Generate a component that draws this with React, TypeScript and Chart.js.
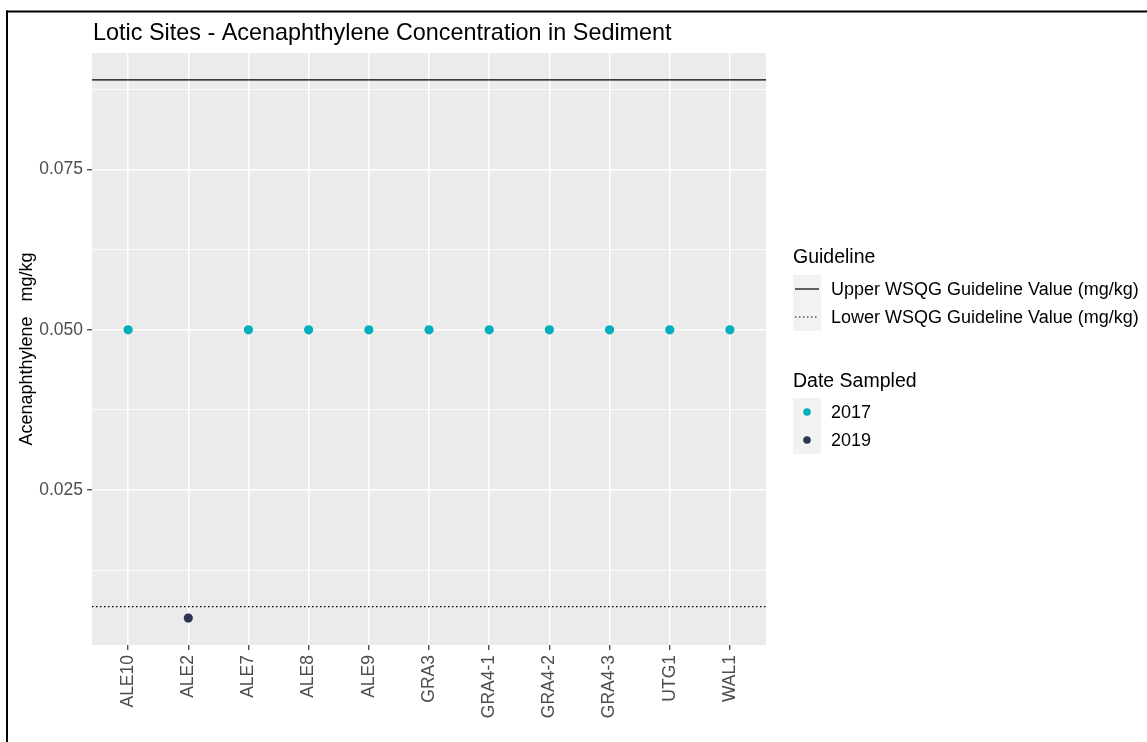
import React, { useEffect, useRef } from "react";
import { Chart, registerables } from "chart.js";

Chart.register(...registerables);

const W = 1147;
const H = 742;
const FONT = "'Liberation Sans', Arial, Helvetica, sans-serif";

const chartTitle = "Lotic Sites - Acenaphthylene Concentration in Sediment";
const yAxisTitle = "Acenaphthylene   mg/kg";

const sites = ["ALE10", "ALE2", "ALE7", "ALE8", "ALE9", "GRA3", "GRA4-1", "GRA4-2", "GRA4-3", "UTG1", "WAL1"];

const sites2017 = ["ALE10", "ALE7", "ALE8", "ALE9", "GRA3", "GRA4-1", "GRA4-2", "GRA4-3", "UTG1", "WAL1"];
const values2017 = [0.05, 0.05, 0.05, 0.05, 0.05, 0.05, 0.05, 0.05, 0.05, 0.05];

const sites2019 = ["ALE2"];
const values2019 = [0.005];

const upperGuideline = 0.089;
const lowerGuideline = 0.0068;

const yMajorTicks = [0.025, 0.05, 0.075];
const yTickLabels = ["0.025", "0.050", "0.075"];
const yMinorTicks = [0.0125, 0.0375, 0.0625, 0.0875];
const yMin = 0.0008;
const yMax = 0.0932;

const guidelineLabels = ["Upper WSQG Guideline Value (mg/kg)", "Lower WSQG Guideline Value (mg/kg)"];
const dateLabels = ["2017", "2019"];

const COLOR_2017 = "#00AFBB";
const COLOR_2019 = "#2B3452";

const isMajor = (v: number) => yMajorTicks.some((m) => Math.abs(m - v) < 1e-9);

export default function App() {
  const ref = useRef<HTMLCanvasElement | null>(null);

  useEffect(() => {
    if (!ref.current) return;
    const xMin = -0.6;
    const xMax = sites.length - 1 + 0.6;

    const decorPlugin = {
      id: "decor",
      beforeDraw(chart: any) {
        const { ctx, chartArea } = chart;
        ctx.save();
        ctx.fillStyle = "#FFFFFF";
        ctx.fillRect(0, 0, W, H);
        ctx.fillStyle = "#EBEBEB";
        ctx.fillRect(chartArea.left, chartArea.top, chartArea.right - chartArea.left, chartArea.bottom - chartArea.top);
        ctx.restore();
      },
      afterDraw(chart: any) {
        const { ctx, chartArea } = chart;
        ctx.save();
        // outer frame
        ctx.fillStyle = "#000000";
        ctx.fillRect(6, 10.5, 2, H);
        ctx.fillRect(6, 10.5, W, 2);

        // title
        ctx.fillStyle = "#000000";
        ctx.font = `23.4px ${FONT}`;
        ctx.textAlign = "left";
        ctx.textBaseline = "alphabetic";
        ctx.fillText(chartTitle, chartArea.left + 1, 40);

        // y axis title
        ctx.save();
        ctx.translate(27, (chartArea.top + chartArea.bottom) / 2);
        ctx.rotate(-Math.PI / 2);
        ctx.font = `18px ${FONT}`;
        ctx.textAlign = "center";
        ctx.textBaseline = "middle";
        ctx.fillText(yAxisTitle, 0, 0);
        ctx.restore();

        // legends
        const keyX = 793;
        const keySize = 28;
        const textX = 831;

        ctx.font = `19.5px ${FONT}`;
        ctx.textAlign = "left";
        ctx.textBaseline = "alphabetic";
        ctx.fillStyle = "#000000";
        ctx.fillText("Guideline", keyX, 263);

        const gTop = 275;
        guidelineLabels.forEach((lab, i) => {
          const y0 = gTop + i * keySize;
          ctx.fillStyle = "#F2F2F2";
          ctx.fillRect(keyX, y0, keySize, keySize);
          ctx.strokeStyle = "#000000";
          ctx.lineWidth = 1.2;
          ctx.setLineDash(i === 0 ? [] : [1.5, 2.5]);
          ctx.beginPath();
          ctx.moveTo(keyX + 2, y0 + keySize / 2);
          ctx.lineTo(keyX + keySize - 2, y0 + keySize / 2);
          ctx.stroke();
          ctx.setLineDash([]);
          ctx.fillStyle = "#000000";
          ctx.font = `18px ${FONT}`;
          ctx.textBaseline = "middle";
          ctx.fillText(lab, textX, y0 + keySize / 2 + 1);
        });

        ctx.font = `19.5px ${FONT}`;
        ctx.textBaseline = "alphabetic";
        ctx.fillStyle = "#000000";
        ctx.fillText("Date Sampled", keyX, 387);

        const dTop = 398;
        dateLabels.forEach((lab, i) => {
          const y0 = dTop + i * keySize;
          ctx.fillStyle = "#F2F2F2";
          ctx.fillRect(keyX, y0, keySize, keySize);
          ctx.fillStyle = i === 0 ? COLOR_2017 : COLOR_2019;
          ctx.beginPath();
          ctx.arc(keyX + keySize / 2, y0 + keySize / 2, 3.8, 0, Math.PI * 2);
          ctx.fill();
          ctx.fillStyle = "#000000";
          ctx.font = `18px ${FONT}`;
          ctx.textBaseline = "middle";
          ctx.fillText(lab, textX, y0 + keySize / 2 + 1);
        });
        ctx.restore();
      },
    };

    const chart = new Chart(ref.current, {
      type: "scatter",
      data: {
        datasets: [
          {
            label: "2019",
            data: sites2019.map((s, i) => ({ x: sites.indexOf(s), y: values2019[i] })),
            backgroundColor: COLOR_2019,
            borderColor: COLOR_2019,
            pointRadius: 4.6,
            borderWidth: 0,
          },
          {
            label: "2017",
            data: sites2017.map((s, i) => ({ x: sites.indexOf(s), y: values2017[i] })),
            backgroundColor: COLOR_2017,
            borderColor: COLOR_2017,
            pointRadius: 4.6,
            borderWidth: 0,
          },
          {
            label: "Upper",
            type: "line",
            data: [
              { x: xMin, y: upperGuideline },
              { x: xMax, y: upperGuideline },
            ],
            borderColor: "#000000",
            borderWidth: 1.3,
            pointRadius: 0,
            fill: false,
          } as any,
          {
            label: "Lower",
            type: "line",
            data: [
              { x: xMin, y: lowerGuideline },
              { x: xMax, y: lowerGuideline },
            ],
            borderColor: "#000000",
            borderWidth: 1.3,
            borderDash: [1.5, 2.5],
            pointRadius: 0,
            fill: false,
          } as any,
        ],
      },
      options: {
        responsive: false,
        animation: false,
        devicePixelRatio: 1,
        layout: { padding: { left: 0, top: 53, right: W - 766, bottom: 0 } },
        plugins: {
          legend: { display: false },
          title: { display: false },
          tooltip: { enabled: false },
        },
        scales: {
          x: {
            type: "linear",
            min: xMin,
            max: xMax,
            afterBuildTicks: (s: any) => {
              s.ticks = sites.map((_, i) => ({ value: i }));
            },
            afterFit: (s: any) => {
              s.height = H - 645;
            },
            ticks: {
              autoSkip: false,
              maxRotation: 90,
              minRotation: 90,
              padding: 5,
              color: "#4D4D4D",
              font: { family: FONT, size: 17.5 },
              callback: (v: any) => sites[Math.round(Number(v))] ?? "",
            },
            grid: {
              color: "#FFFFFF",
              lineWidth: 1.5,
              drawTicks: true,
              tickLength: 5,
              tickColor: "#333333",
              tickWidth: 1.2,
            },
            border: { display: false },
          },
          y: {
            type: "linear",
            min: yMin,
            max: yMax,
            afterBuildTicks: (s: any) => {
              s.ticks = [...yMajorTicks, ...yMinorTicks].sort((a, b) => a - b).map((v) => ({ value: v }));
            },
            afterFit: (s: any) => {
              s.width = 92;
            },
            ticks: {
              autoSkip: false,
              padding: 4,
              color: "#4D4D4D",
              font: { family: FONT, size: 17.5 },
              callback: (v: any) => {
                const idx = yMajorTicks.findIndex((m) => Math.abs(m - Number(v)) < 1e-9);
                return idx >= 0 ? yTickLabels[idx] : "";
              },
            },
            grid: {
              color: "#FFFFFF",
              lineWidth: (c: any) => (isMajor(c.tick?.value) ? 1.5 : 0.8),
              drawTicks: true,
              tickLength: 5,
              tickColor: (c: any) => (isMajor(c.tick?.value) ? "#333333" : "rgba(0,0,0,0)"),
              tickWidth: 1.2,
            },
            border: { display: false },
          },
        },
      },
      plugins: [decorPlugin],
    } as any);

    return () => chart.destroy();
  }, []);

  return (
    <div style={{ position: "absolute", left: 0, top: 0, width: W, height: H }}>
      <canvas ref={ref} width={W} height={H} style={{ display: "block", width: W, height: H }} />
    </div>
  );
}
